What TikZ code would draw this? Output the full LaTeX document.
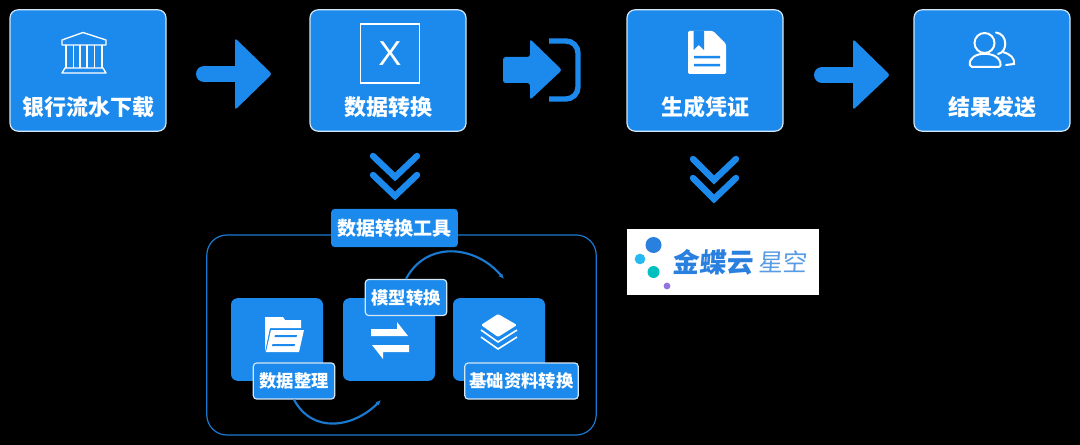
\documentclass[tikz,border=0pt]{standalone}
\usepackage{fontspec}
\setmainfont{Noto Sans CJK SC}
\newfontfamily\xfont{Liberation Sans}
\usetikzlibrary{arrows,arrows.meta,positioning,calc}

\definecolor{tileblue}{HTML}{1B8AEC}
\definecolor{lineblue}{HTML}{1A7AD0}
\definecolor{edgewhite}{HTML}{D5E6F5}
\definecolor{logoblue}{HTML}{2A80DF}
\definecolor{logolight}{HTML}{5A9CE4}

\tikzset{
    stepbox/.style={draw=edgewhite,line width=0.9pt,fill=tileblue,rounded corners=6pt,minimum width=117pt,minimum height=91pt,inner sep=0pt},
    steptext/.style={text=white,font=\bfseries\fontsize{16.5}{18}\selectfont,inner sep=0pt},
    tilebox/.style={fill=tileblue,rounded corners=5pt,minimum width=69pt,minimum height=62pt,inner sep=0pt},
    tagbox/.style={draw=edgewhite,line width=0.9pt,fill=tileblue,rounded corners=2.5pt,minimum height=27pt,inner sep=0pt,text=white,font=\bfseries\fontsize{13}{15}\selectfont},
    chevron/.style={draw=tileblue,line width=4.8pt,line cap=round},
    bigarrow/.style={fill=tileblue,rounded corners=2pt},
    iconline/.style={draw=white,line width=1pt},
    flowline/.style={draw=lineblue,line width=1.6pt,-{Latex[length=4pt,width=3.5pt]}}
}

\begin{document}
\begin{tikzpicture}[x=0.75pt,y=0.75pt]
        \useasboundingbox (0,0) rectangle (1080,-445);
        \fill[black] (0,0) rectangle (1080,-445);

        %%% Top row
        % Boxes
        \node[stepbox] (bankBox) at (88,-70.5) {};
        \node[stepbox] (convertBox) at (388,-70.5) {};
        \node[stepbox] (voucherBox) at (705,-70.5) {};
        \node[stepbox] (sendBox) at (992,-70.5) {};

        % Box texts
        \node[steptext] (bankText) at (88,-107) {银行流水下载};
        \node[steptext] (convertText) at (388,-107) {数据转换};
        \node[steptext] (voucherText) at (705,-107) {生成凭证};
        \node[steptext] (sendText) at (992,-107) {结果发送};

        % Bank icon
        \draw[iconline,line join=round] (62,-45) -- (62,-40) -- (83,-32.5) -- (106,-40) -- (106,-45) -- cycle;
        \draw[iconline] (66,-45) -- (66,-68) (73.5,-45) -- (73.5,-68) (80,-45) -- (80,-68) (87,-45) -- (87,-68) (94.5,-45) -- (94.5,-68) (102,-45) -- (102,-68);
        \draw[iconline,line join=round] (65,-68) -- (103,-68) -- (106,-73) -- (62,-73) -- cycle;

        % Excel icon
        \node[draw=white,line width=1.2pt,minimum size=44.5pt,inner sep=0pt,text=white,font=\xfont\fontsize{26}{28}\selectfont] (excelIcon) at (390,-53.5) {X};

        % Document icon
        \fill[white,rounded corners=1pt] (688,-31) -- (713,-31) -- (726,-44) -- (726,-74) -- (688,-74) -- cycle;
        \fill[tileblue] (693.5,-31) -- (704,-31) -- (704,-50) -- (698.7,-45) -- (693.5,-50) -- cycle;
        \fill[tileblue] (694,-56) rectangle (720,-58.5) (694,-64) rectangle (720,-66.5);

        % People icon
        \draw[white,line width=1.5pt] (984.5,-43) circle[radius=10];
        \draw[white,line width=1.5pt,line join=round,rounded corners=1.5pt] (970,-67) .. controls (968,-50) and (1001,-50) .. (1000.5,-67) -- cycle;
        \draw[white,line width=1.5pt,line cap=round] (996,-32.5) .. controls (1008,-34) and (1008,-52) .. (998,-54);
        \draw[white,line width=1.5pt,line cap=round] (1003,-52) .. controls (1010,-54) and (1015,-58) .. (1014,-64) -- (1006,-65);

        % Arrows between boxes
        \draw[draw=tileblue,line width=12pt,line cap=round] (204,-74) -- (238,-74);
        \fill[bigarrow] (235,-38) -- (272,-74) -- (235,-110) -- cycle;
        \fill[bigarrow] (503,-57) -- (530,-57) -- (530,-39) -- (562,-70) -- (530,-100) -- (530,-83) -- (503,-83) -- cycle;
        \draw[draw=tileblue,line width=4pt,rounded corners=9pt] (549,-41) -- (578,-41) -- (578,-99) -- (549,-99);
        \draw[draw=tileblue,line width=12pt,line cap=round] (822,-75) -- (856,-75);
        \fill[bigarrow] (853,-39) -- (890,-75) -- (853,-110) -- cycle;

        %%% Double chevrons
        \draw[chevron] (373,-156) -- (395,-177) -- (417,-156);
        \draw[chevron] (373,-175) -- (395,-196) -- (417,-175);
        \draw[chevron] (693,-159) -- (714,-180) -- (736,-159);
        \draw[chevron] (693,-178) -- (714,-199) -- (736,-178);

        %%% Tool frame
        \node[draw=lineblue,line width=0.9pt,rounded corners=15pt,minimum width=292pt,minimum height=150pt,inner sep=0pt] (toolFrame) at (401.5,-335) {};
        \node[fill=tileblue,rounded corners=2.5pt,minimum width=95pt,minimum height=28.5pt,inner sep=0pt,text=white,font=\bfseries\fontsize{14.3}{16}\selectfont] (toolTitle) at (394.5,-228) {数据转换工具};

        % Tiles
        \node[tilebox] (tidyTile) at (277,-339.5) {};
        \node[tilebox] (modelTile) at (389,-339.5) {};
        \node[tilebox] (baseTile) at (499,-339.5) {};

        % Folder icon
        \fill[white] (265,-352) -- (265,-317) -- (283,-317) -- (285,-320) -- (301,-320) -- (301,-328) -- (270,-328) -- cycle;
        \fill[white] (271,-330) -- (304,-330) -- (299,-352) -- (266,-352) -- cycle;
        \fill[tileblue] (275,-335) -- (297,-335) -- (296.5,-337) -- (274.5,-337) -- cycle (272.5,-344) -- (295,-344) -- (294.5,-346) -- (272,-346) -- cycle;

        % Swap icon
        \fill[white] (371,-329) -- (397,-329) -- (397,-322) -- (408,-336) -- (371,-336) -- cycle;
        \fill[white] (409,-345) -- (372,-345) -- (383,-359) -- (383,-352) -- (409,-352) -- cycle;

        % Layers icon
        \fill[white,rounded corners=1pt] (498,-314) -- (517,-325) -- (498,-337) -- (481,-325) -- cycle;
        \draw[iconline,line width=1.2pt] (481,-330) -- (498,-342) -- (517,-330);
        \draw[iconline,line width=1.2pt] (481,-337) -- (498,-349) -- (517,-337);

        % Tags
        \node[tagbox,minimum width=61pt] (tidyTag) at (294,-381) {数据整理};
        \node[tagbox,minimum width=61pt] (modelTag) at (406,-297.5) {模型转换};
        \node[tagbox,minimum width=85pt] (baseTag) at (521.5,-381) {基础资料转换};

        % Arcs between tags and tiles
        \coordinate (tidyEnd) at (381,-400);
        \coordinate (modelEnd) at (504,-279);
        \draw[flowline] (tidyTag.south) to[out=-62,in=225,looseness=1.15] (tidyEnd);
        \draw[flowline] (modelTag.north) to[out=62,in=130,looseness=1.15] (modelEnd);

        %%% Logo
        \node[fill=white,minimum width=144pt,minimum height=49.5pt,inner sep=0pt] (logoBox) at (723,-262) {};
        \fill[logoblue] (653.5,-245) circle[radius=8];
        \fill[cyan!85!white] (640,-259) circle[radius=5.3];
        \fill[teal!50!cyan] (653.5,-272) circle[radius=6];
        \fill[violet!45!blue!55!white] (667,-286) circle[radius=3.4];
        \node[text=logoblue,inner sep=0pt,font=\bfseries\fontsize{20}{22}\selectfont,xslant=0.08] (logoName) at (713.5,-262) {金蝶云};
        \node[text=logolight,inner sep=0pt,font=\fontsize{18.4}{20}\selectfont,xslant=0.08] (logoSub) at (783.5,-262) {星空};
\end{tikzpicture}
\end{document}
